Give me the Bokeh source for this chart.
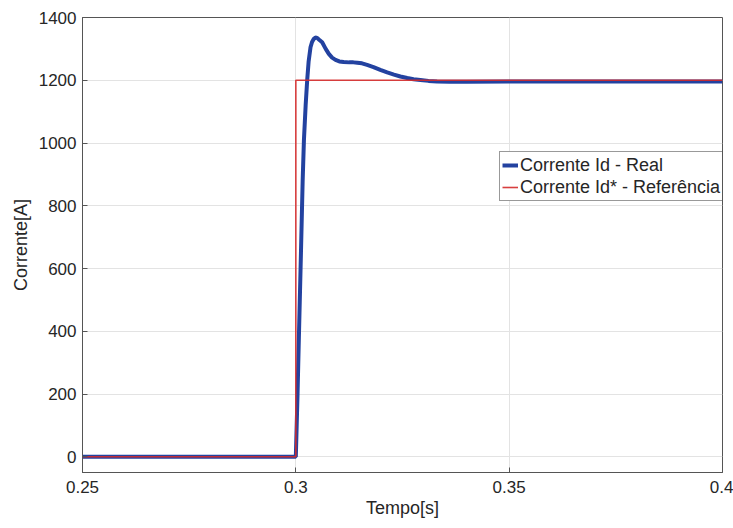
from bokeh.plotting import figure
from bokeh.models import Range1d, FixedTicker, Legend, LegendItem
from bokeh.embed import file_html
from bokeh.resources import INLINE

# ---- data ----
t_real = [0.25, 0.300, 0.3004, 0.30075, 0.3012, 0.3016, 0.3019, 0.3023, 0.30266,
          0.3030, 0.30344, 0.3038, 0.30422, 0.3046, 0.3050, 0.3054, 0.30617,
          0.3070, 0.30773, 0.3085, 0.3093, 0.3102, 0.3112, 0.3125, 0.3135,
          0.3144, 0.3155, 0.3167, 0.3182, 0.3198, 0.3214, 0.3230, 0.3245,
          0.3261, 0.3276, 0.3292, 0.3311, 0.3331, 0.3360, 0.3400, 0.3500,
          0.3700, 0.4]
i_real = [0, 0, 200, 400, 650, 880, 1010, 1120, 1200,
          1260, 1305, 1322, 1332, 1336, 1335, 1330, 1321,
          1300, 1284, 1272, 1265, 1260, 1258, 1257, 1257,
          1256, 1254, 1249, 1242, 1233, 1225, 1218, 1212,
          1207, 1203, 1201, 1198, 1196, 1195, 1195, 1196,
          1196, 1196]
t_ref = [0.25, 0.3, 0.3, 0.4]
i_ref = [0, 0, 1200, 1200]

x_ticks = [0.25, 0.3, 0.35, 0.4]
x_tick_labels = {0.25: "0.25", 0.3: "0.3", 0.35: "0.35", 0.4: "0.4"}
y_ticks = [0, 200, 400, 600, 800, 1000, 1200, 1400]

label_real = "Corrente Id - Real"
label_ref = "Corrente Id* - Referência"
x_label = "Tempo[s]"
y_label = "Corrente[A]"

FONT = "Liberation Sans"

p = figure(width=733, height=528, output_backend="svg", toolbar_location=None,
           x_range=Range1d(0.25, 0.4), y_range=Range1d(-50, 1400))
p.frame_width = 640
p.frame_height = 455
p.min_border_left = 82
p.min_border_right = 11
p.min_border_top = 17
p.min_border_bottom = 56
p.background_fill_color = "white"
p.border_fill_color = "white"
p.outline_line_color = "#555555"
p.outline_line_width = 1

r_real = p.line(t_real, i_real, line_color="#2342a0", line_width=4)
r_ref = p.line(t_ref, i_ref, line_color="#d42a2a", line_width=1.6, line_alpha=0.9)

for ax in (p.xaxis[0], p.yaxis[0]):
    ax.major_label_text_font = FONT
    ax.major_label_text_font_size = "17px"
    ax.major_label_text_color = "#262626"
    ax.axis_label_text_font = FONT
    ax.axis_label_text_font_size = "18px"
    ax.axis_label_text_font_style = "normal"
    ax.axis_label_text_color = "#262626"
    ax.axis_line_color = "#555555"
    ax.major_tick_line_color = "#555555"
    ax.major_tick_in = 5
    ax.major_tick_out = 0
    ax.minor_tick_line_color = None

p.xaxis.ticker = FixedTicker(ticks=x_ticks)
p.xaxis.major_label_overrides = x_tick_labels
p.yaxis.ticker = FixedTicker(ticks=y_ticks)
p.xaxis.axis_label = x_label
p.yaxis.axis_label = y_label
p.xaxis.major_label_standoff = 8
p.xaxis.axis_label_standoff = 2
p.yaxis.major_label_standoff = 6
p.yaxis.axis_label_standoff = 5

p.xgrid.grid_line_color = "#e3e3e3"
p.ygrid.grid_line_color = "#e3e3e3"

legend = Legend(items=[LegendItem(label=label_real, renderers=[r_real]),
                       LegendItem(label=label_ref, renderers=[r_ref])],
                location=(417, 271))
legend.label_text_font = FONT
legend.label_text_font_size = "18px"
legend.label_text_color = "#262626"
legend.glyph_width = 16
legend.glyph_height = 22
legend.label_height = 22
legend.label_standoff = 2
legend.spacing = 0
legend.padding = 2
legend.margin = 0
legend.border_line_color = "#333333"
legend.border_line_width = 1
legend.background_fill_alpha = 1
p.add_layout(legend, "center")

open("out.html", "w").write(file_html(p, INLINE))
